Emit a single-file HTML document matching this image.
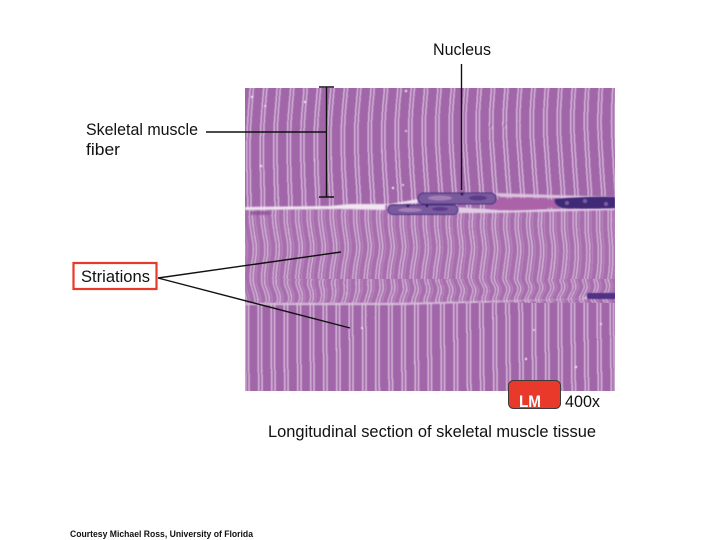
<!DOCTYPE html>
<html><head><meta charset="utf-8"><style>html,body{margin:0;padding:0;background:#fff}svg{display:block}text{font-family:"Liberation Sans",sans-serif;fill:#111}</style></head>
<body>
<svg width="720" height="540" viewBox="0 0 720 540" xmlns="http://www.w3.org/2000/svg">
<defs>
<pattern id="s1" width="13.5" height="20" patternUnits="userSpaceOnUse" x="247">
<rect width="13.5" height="20" fill="#a066a8"/>
<rect x="1" width="1.5" height="20" fill="#d6b8da"/><rect x="4.200" width="1.5" height="20" fill="#d6b8da"/>
</pattern>
<pattern id="s2" width="11.5" height="4" patternUnits="userSpaceOnUse" x="250">
<rect width="11.5" height="4" fill="#a76dad"/>
<rect x="0.5" width="1.400" height="4" fill="#d3b5d7"/><rect x="3.500" width="1.400" height="4" fill="#d8bfdb"/><rect x="6.500" width="1" height="4" fill="#bd8fc2"/>
</pattern>
<pattern id="s3" width="13" height="20" patternUnits="userSpaceOnUse" x="245">
<rect width="13" height="20" fill="#a066a8"/>
<rect x="1" width="1.500" height="20" fill="#d8bcdb"/><rect x="4.300" width="1.500" height="20" fill="#d8bcdb"/>
</pattern>
<filter id="w1" x="0" y="0" width="1" height="1" color-interpolation-filters="sRGB"><feTurbulence type="fractalNoise" baseFrequency="0.002 0.012" numOctaves="1" seed="7"/><feDisplacementMap in="SourceGraphic" scale="11" xChannelSelector="R" yChannelSelector="A"/><feGaussianBlur stdDeviation="0.45"/></filter>
<filter id="w2" x="0" y="0" width="1" height="1" color-interpolation-filters="sRGB"><feTurbulence type="fractalNoise" baseFrequency="0.004 0.03" numOctaves="1" seed="9"/><feDisplacementMap in="SourceGraphic" scale="9" xChannelSelector="R" yChannelSelector="A"/><feGaussianBlur stdDeviation="0.45"/></filter>
<filter id="w4" x="0" y="0" width="1" height="1" color-interpolation-filters="sRGB"><feTurbulence type="fractalNoise" baseFrequency="0.006 0.06" numOctaves="1" seed="3"/><feDisplacementMap in="SourceGraphic" scale="22" xChannelSelector="R" yChannelSelector="A"/><feGaussianBlur stdDeviation="0.55"/></filter>
<filter id="w3" x="0" y="0" width="1" height="1" color-interpolation-filters="sRGB"><feTurbulence type="fractalNoise" baseFrequency="0.002 0.005" numOctaves="1" seed="2"/><feDisplacementMap in="SourceGraphic" scale="5" xChannelSelector="R" yChannelSelector="A"/><feGaussianBlur stdDeviation="0.45"/></filter>
<filter id="b"><feGaussianBlur stdDeviation="0.8"/></filter>
<filter id="b2"><feGaussianBlur stdDeviation="0.4"/></filter>
<clipPath id="img"><rect x="245" y="88" width="370" height="303"/></clipPath>
<clipPath id="mid"><rect x="245" y="279" width="370" height="24"/></clipPath>
</defs>
<g clip-path="url(#img)">
<rect x="245" y="88" width="370" height="303" fill="#a467aa"/>
<rect x="215" y="60" width="430" height="150" fill="url(#s1)" filter="url(#w1)"/>
<rect x="215" y="209" width="430" height="100" fill="url(#s2)" filter="url(#w2)"/>
<rect x="215" y="302" width="430" height="115" fill="url(#s3)" filter="url(#w3)"/>
<g clip-path="url(#mid)"><rect x="215" y="262" width="430" height="58" fill="url(#s2)" filter="url(#w4)"/></g>
<g filter="url(#b)">
<path d="M245 207 L330 206 L350 204 L390 204 L418 199 L418 203 L385 205 L385 210 L340 209 L245 210Z" fill="#f1e6f2"/>
<path d="M494 193 L615 197 L615 199 L555 198 L500 197Z" fill="#dcc3de"/>
<path d="M455 207 L500 210 L615 208 L615 210 L490 213 L455 213Z" fill="#e2cde4"/>
<path d="M245 303 L400 303 L582 299 L588 295 L588 299 L400 305 L245 305Z" fill="#dcc3de"/>
<rect x="250" y="211" width="20" height="4" rx="2" fill="#8f4a95" opacity=".7"/>
</g>
<path d="M491 200 Q520 196 555 200 L555 207 Q525 212 490 209Z" fill="#ac62a8" filter="url(#b)"/>
<g filter="url(#b2)">
<rect x="418" y="193" width="78" height="11" rx="5.500" fill="#7a5a9e" stroke="#45307f" stroke-width="1"/>
<rect x="388" y="205" width="70" height="9.500" rx="4.500" fill="#7a5a9e" stroke="#45307f" stroke-width="1"/>
<path d="M555 199 Q590 196 615 197 L615 208 Q585 209 562 208 Q553 204 555 199Z" fill="#3f2a78"/>
<rect x="587" y="293" width="30" height="6" rx="2" fill="#503285"/>
<ellipse cx="440" cy="198" rx="12" ry="2.500" fill="#a67fb5"/><ellipse cx="478" cy="198" rx="9" ry="2.500" fill="#5a3a8a"/>
<ellipse cx="410" cy="210" rx="12" ry="2" fill="#a67fb5"/><ellipse cx="440" cy="209" rx="8" ry="2" fill="#5a3a8a"/>
<circle cx="462" cy="194" r="1.600" fill="#2d1c5a"/><circle cx="408" cy="206" r="1.400" fill="#2d1c5a"/><circle cx="427" cy="206" r="1.400" fill="#2d1c5a"/>
<circle cx="567" cy="203" r="2" fill="#7b5ba5"/><circle cx="585" cy="201" r="2" fill="#7b5ba5"/><circle cx="606" cy="204" r="2" fill="#7b5ba5"/>
</g>
<g fill="#f3e8f4" filter="url(#b2)">
<circle cx="252" cy="97" r="1.200"/><circle cx="265" cy="106" r="1"/><circle cx="305" cy="102" r="1.200"/><circle cx="406" cy="131" r="1"/><circle cx="406" cy="91" r="1.200"/><circle cx="261" cy="166" r="1.200"/><circle cx="393" cy="188" r="1.200"/><circle cx="403" cy="185" r="1"/>
<circle cx="362" cy="328" r="1"/><circle cx="526" cy="359" r="1.200"/><circle cx="576" cy="367" r="1.200"/><circle cx="601" cy="324" r="1"/><circle cx="534" cy="330" r="1"/>
</g>
</g>
<g stroke="#111" fill="none">
<path d="M461.5 64V190" stroke-width="1.400"/>
<path d="M326.500 87V197" stroke-width="1.400"/>
<path d="M319 87H334M319 197H334" stroke-width="1.400"/>
<path d="M206 132H326" stroke-width="1.400"/>
<path d="M158 278L341 252M158 278L350 328" stroke-width="1.400"/>
</g>
<rect x="73.500" y="263" width="83" height="26" fill="#fff" stroke="#e8392b" stroke-width="2.200"/>
<text x="81" y="282" font-size="16.500" textLength="69" lengthAdjust="spacingAndGlyphs">Striations</text>
<text x="433" y="55" font-size="16.500" textLength="58" lengthAdjust="spacingAndGlyphs">Nucleus</text>
<text x="86" y="135" font-size="16.500" textLength="112" lengthAdjust="spacingAndGlyphs">Skeletal muscle</text>
<text x="86" y="155" font-size="16.500" textLength="34" lengthAdjust="spacingAndGlyphs">fiber</text>
<rect x="508.500" y="380.500" width="52" height="28" rx="5" fill="#e9392a" stroke="#3a3a3a" stroke-width="1"/>
<text x="519" y="407" font-size="16.500" font-weight="bold" style="fill:#fff" textLength="22" lengthAdjust="spacingAndGlyphs">LM</text>
<text x="565" y="407" font-size="16.500" textLength="35" lengthAdjust="spacingAndGlyphs">400x</text>
<text x="268" y="437" font-size="16.500" textLength="328" lengthAdjust="spacingAndGlyphs">Longitudinal section of skeletal muscle tissue</text>
<text x="70" y="537" font-size="9" font-weight="bold" textLength="183" lengthAdjust="spacingAndGlyphs">Courtesy Michael Ross, University of Florida</text>
</svg>
</body></html>
